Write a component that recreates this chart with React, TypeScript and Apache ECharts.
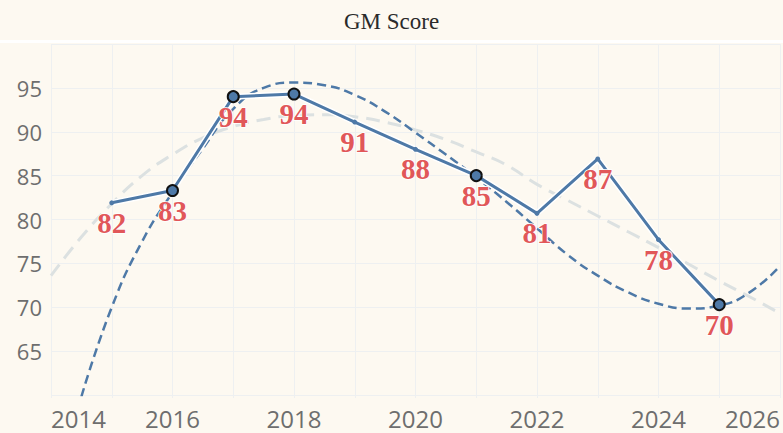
import React, { useEffect, useRef } from "react";
import * as echarts from "echarts";

// Observed GM Score values
const years = [2015, 2016, 2017, 2018, 2019, 2020, 2021, 2022, 2023, 2024, 2025];
const scores = [81.9, 83.3, 94.0, 94.3, 91.1, 88.0, 85.0, 80.7, 86.9, 77.7, 70.3];
// Highlighted points (large circles with black outline)
const keyYears = [2016, 2017, 2018, 2021, 2025];

// Blue dashed trend
const blueTrendYears = [
  2014.5, 2015, 2015.5, 2016, 2016.5, 2017, 2017.5, 2018, 2018.5, 2019, 2019.5, 2020,
  2020.5, 2021, 2021.5, 2022, 2022.5, 2023, 2023.5, 2024, 2024.5, 2025, 2025.5, 2026,
];
const blueTrendValues = [
  59.8, 70.0, 77.5, 83.1, 88.1, 92.6, 95.0, 95.6, 95.3, 94.2, 92.3, 89.9,
  87.4, 84.8, 82.0, 79.0, 76.0, 73.6, 71.7, 70.4, 69.85, 70.2, 71.7, 74.7,
];

// Light gray dashed trend
const grayTrendYears = [
  2014, 2014.5, 2015, 2015.5, 2016, 2016.5, 2017, 2017.5, 2018, 2018.5, 2019, 2019.5,
  2020, 2020.5, 2021, 2021.5, 2022, 2022.5, 2023, 2023.5, 2024, 2024.5, 2025, 2025.5, 2026,
];
const grayTrendValues = [
  73.6, 78.0, 81.8, 85.0, 87.4, 89.3, 90.6, 91.4, 91.85, 91.95, 91.7, 91.1,
  90.2, 89.1, 87.7, 86.2, 84.0, 82.2, 80.4, 78.6, 76.8, 74.9, 73.0, 71.2, 69.3,
];

// Tick labels
const xTickLabels = [2014, 2016, 2018, 2020, 2022, 2024, 2026];
const yTickLabels = [65, 70, 75, 80, 85, 90, 95];

const BG = "#fdf9f1";
const BLUE = "#4e79a7";
const RED = "#e15759";
const GRID = "#eef0f1";
const AXIS_TEXT = "#6e6e6e";

export default function App() {
  const ref = useRef<HTMLDivElement>(null);

  useEffect(() => {
    if (!ref.current) return;
    const chart = echarts.init(ref.current, undefined, { renderer: "svg" });

    const mainData = years.map((y, i) => {
      const key = keyYears.includes(y);
      return {
        value: [y, scores[i]],
        symbolSize: key ? 11 : 5,
        itemStyle: key
          ? { color: BLUE, borderColor: "#111", borderWidth: 2 }
          : { color: BLUE, borderWidth: 0 },
      };
    });

    chart.setOption({
      animation: false,
      backgroundColor: BG,
      title: {
        text: "GM Score",
        left: "center",
        top: 5,
        textStyle: {
          fontFamily: "Liberation Serif",
          fontSize: 23,
          fontWeight: "normal",
          color: "#2a2a2a",
        },
      },
      graphic: [
        {
          type: "rect",
          shape: { x: 0, y: 40, width: 783, height: 3 },
          style: { fill: "#ffffff" },
          silent: true,
          z: 0,
        },
      ],
      grid: { left: 51, right: 0, top: 44, bottom: 38, containLabel: false },
      xAxis: {
        type: "value",
        min: 2014,
        max: 2026,
        interval: 1,
        axisLine: { show: false },
        axisTick: { show: true, length: 3, lineStyle: { color: GRID } },
        splitLine: { show: true, lineStyle: { color: GRID, width: 1 } },
        axisLabel: {
          margin: 11,
          color: AXIS_TEXT,
          fontFamily: "Open Sans",
          fontSize: 24,
          alignMinLabel: "left",
          alignMaxLabel: "right",
          formatter: (v: number) => (xTickLabels.includes(v) ? String(v) : ""),
        },
      },
      yAxis: {
        type: "value",
        min: 60,
        max: 100,
        interval: 5,
        axisLine: { show: false },
        axisTick: { show: false },
        splitLine: { show: true, lineStyle: { color: GRID, width: 1 } },
        axisLabel: {
          margin: 9,
          color: AXIS_TEXT,
          fontFamily: "Open Sans",
          fontSize: 22,
          formatter: (v: number) => (yTickLabels.includes(v) ? String(v) : ""),
        },
      },
      series: [
        {
          name: "trend2",
          type: "line",
          data: grayTrendYears.map((y, i) => [y, grayTrendValues[i]]),
          smooth: true,
          symbol: "none",
          silent: true,
          lineStyle: { color: "#dce1e1", width: 3, type: [14, 8] },
          z: 1,
        },
        {
          name: "trend3",
          type: "line",
          data: blueTrendYears.map((y, i) => [y, blueTrendValues[i]]),
          smooth: true,
          symbol: "none",
          silent: true,
          lineStyle: { color: BLUE, width: 2.5, type: [9, 5] },
          z: 2,
        },
        {
          name: "halo",
          type: "line",
          data: years.map((y, i) => [y, scores[i]]),
          symbol: "none",
          silent: true,
          lineStyle: { color: "#ffffff", width: 6 },
          z: 3,
        },
        {
          name: "GM Score",
          type: "line",
          data: mainData,
          symbol: "circle",
          showAllSymbol: true,
          lineStyle: { color: BLUE, width: 3 },
          label: {
            show: true,
            position: "inside",
            offset: [0, 20],
            formatter: (p: any) => String(Math.round(p.value[1])),
            fontFamily: "Liberation Serif",
            fontWeight: "bold",
            fontSize: 29,
            color: RED,
            textBorderColor: "#ffffff",
            textBorderWidth: 1.5,
          },
          z: 4,
        },
      ],
    });

    return () => chart.dispose();
  }, []);

  return (
    <div
      ref={ref}
      style={{ position: "fixed", left: 0, top: 0, width: 783, height: 433 }}
    />
  );
}
